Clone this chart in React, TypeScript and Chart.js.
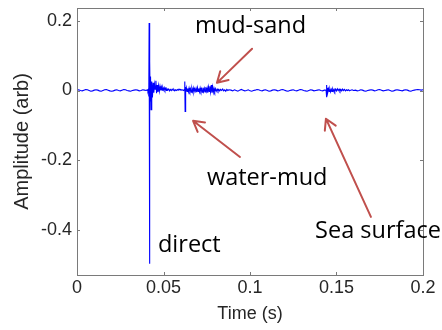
import React, { useEffect, useRef } from "react";
import { Chart, registerables } from "chart.js";

Chart.register(...registerables);

// ---- axis ranges and ticks ----
const xRange = [0, 0.2];
const yRange = [-0.53, 0.237];
const xTicks = [0, 0.05, 0.1, 0.15, 0.2];
const yTicks = [-0.4, -0.2, 0, 0.2];
const xTitle = "Time (s)";
const yTitle = "Amplitude (arb)";

// ---- waveform segments: [time (s), amplitude (arb)] ----
const quietBefore: [number, number][] = [
  [0.000, 0.001], [0.001, 0.002], [0.002, 0.000], [0.003, -0.001], [0.004, 0.001],
  [0.005, 0.003], [0.006, 0.002], [0.007, 0.000], [0.008, -0.002], [0.009, -0.001],
  [0.010, 0.001], [0.011, 0.002], [0.012, 0.001], [0.013, -0.001], [0.014, -0.002],
  [0.015, 0.000], [0.016, 0.002], [0.017, 0.003], [0.018, 0.001], [0.019, -0.001],
  [0.020, -0.002], [0.021, -0.001], [0.022, 0.001], [0.023, 0.002], [0.024, 0.000],
  [0.025, -0.001], [0.026, 0.001], [0.027, 0.003], [0.028, 0.002], [0.029, 0.000],
  [0.030, -0.001], [0.031, -0.002], [0.032, 0.000], [0.033, 0.001], [0.034, 0.002],
  [0.035, 0.001], [0.036, -0.001], [0.037, 0.000], [0.038, 0.002], [0.039, 0.001],
  [0.040, 0.000],
];

const directArrival: [number, number][] = [
  [0.0406, 0.002], [0.0410, -0.002], [0.0413, 0.003], [0.0415, -0.017], [0.0417, 0.194],
  [0.0419, -0.498], [0.0421, 0.083], [0.0423, -0.030], [0.0425, 0.040], [0.0428, -0.055],
  [0.0432, 0.026], [0.0436, -0.020], [0.0440, 0.022], [0.0444, -0.006], [0.0448, 0.018],
  [0.0452, 0.004], [0.0456, 0.028], [0.0460, -0.008], [0.0464, 0.016], [0.0468, -0.004],
  [0.0472, 0.014], [0.0476, -0.002], [0.0480, 0.012], [0.0484, 0.000], [0.0488, 0.010],
  [0.0492, 0.001], [0.0496, 0.009], [0.0500, 0.002], [0.0504, 0.008], [0.0508, 0.001],
  [0.0512, 0.006], [0.0516, 0.000], [0.0520, 0.005], [0.0525, 0.001], [0.0530, 0.004],
  [0.0535, -0.001], [0.0540, 0.003], [0.0545, 0.000], [0.0550, 0.004], [0.0555, 0.001],
  [0.0560, 0.003], [0.0565, -0.001], [0.0570, 0.002], [0.0575, 0.000], [0.0580, 0.003],
  [0.0585, 0.001], [0.0590, 0.004], [0.0595, 0.002], [0.0600, 0.003], [0.0605, 0.001],
  [0.0610, 0.002], [0.0615, 0.000], [0.0620, 0.002],
];

const waterMudEcho: [number, number][] = [
  [0.0622, 0.001], [0.0624, 0.026], [0.0625, -0.060], [0.0627, 0.010], [0.0629, -0.004],
];

const mudSandEcho: [number, number][] = [
  [0.0632, 0.008], [0.0636, -0.003], [0.0640, 0.006], [0.0644, -0.004], [0.0648, 0.007],
  [0.0652, -0.002], [0.0656, 0.005], [0.0660, -0.005], [0.0664, 0.006], [0.0668, -0.003],
  [0.0672, 0.007], [0.0676, -0.004], [0.0680, 0.005], [0.0684, -0.002], [0.0688, 0.006],
  [0.0692, -0.005], [0.0696, 0.008], [0.0700, -0.003], [0.0704, 0.006], [0.0708, -0.004],
  [0.0712, 0.007], [0.0716, -0.002], [0.0720, 0.005], [0.0724, -0.005], [0.0728, 0.008],
  [0.0732, -0.003], [0.0736, 0.006], [0.0740, -0.004], [0.0744, 0.009], [0.0748, -0.002],
  [0.0752, 0.007], [0.0756, -0.006], [0.0760, 0.010], [0.0764, -0.003], [0.0768, 0.012],
  [0.0772, -0.004], [0.0776, 0.016], [0.0780, -0.006], [0.0784, 0.010], [0.0788, -0.005],
  [0.0792, 0.006], [0.0796, -0.003], [0.0800, 0.005], [0.0805, -0.002], [0.0810, 0.004],
  [0.0815, -0.002], [0.0820, 0.003], [0.0825, -0.001], [0.0830, 0.003], [0.0836, 0.000],
  [0.0842, 0.004], [0.0848, -0.001], [0.0854, 0.002], [0.0860, -0.002], [0.0866, 0.003],
  [0.0872, 0.000], [0.0878, 0.002],
];

const quietMiddle: [number, number][] = [
  [0.089, 0.001], [0.090, -0.001], [0.091, 0.002], [0.092, 0.000], [0.093, -0.002],
  [0.094, 0.001], [0.095, 0.003], [0.096, 0.001], [0.097, -0.001], [0.098, 0.000],
  [0.099, 0.002], [0.100, -0.001], [0.101, -0.002], [0.102, 0.000], [0.103, 0.001],
  [0.104, 0.003], [0.105, 0.002], [0.106, 0.000], [0.107, -0.001], [0.108, 0.001],
  [0.109, 0.002], [0.110, 0.000], [0.111, -0.002], [0.112, -0.001], [0.113, 0.001],
  [0.114, 0.002], [0.115, 0.001], [0.116, -0.001], [0.117, 0.000], [0.118, 0.002],
  [0.119, 0.003], [0.120, 0.001], [0.121, -0.001], [0.122, -0.002], [0.123, 0.000],
  [0.124, 0.001], [0.125, 0.002], [0.126, 0.000], [0.127, -0.001], [0.128, 0.001],
  [0.129, 0.003], [0.130, 0.002], [0.131, 0.000], [0.132, -0.001], [0.133, -0.002],
  [0.134, 0.000], [0.135, 0.002], [0.136, 0.001], [0.137, -0.001], [0.138, 0.000],
  [0.139, 0.001], [0.140, 0.002], [0.141, 0.000], [0.142, -0.001], [0.143, 0.001],
];

const seaSurfaceEcho: [number, number][] = [
  [0.1436, 0.001], [0.1440, 0.000], [0.1442, 0.016], [0.1444, -0.019], [0.1447, 0.008],
  [0.1450, -0.004], [0.1454, 0.005], [0.1458, -0.003], [0.1462, 0.004], [0.1466, -0.004],
  [0.1470, 0.003], [0.1474, -0.003], [0.1478, 0.004], [0.1482, -0.002], [0.1486, 0.003],
  [0.1490, -0.003], [0.1495, 0.004], [0.1500, -0.001], [0.1505, 0.005], [0.1510, 0.000],
  [0.1515, 0.004], [0.1520, -0.002], [0.1525, 0.003], [0.1530, -0.001], [0.1535, 0.004],
  [0.1540, 0.000], [0.1546, 0.003], [0.1552, -0.001], [0.1558, 0.002], [0.1564, 0.000],
  [0.1570, 0.002], [0.1576, -0.001], [0.1582, 0.001], [0.1590, 0.002], [0.1598, 0.000],
];

const quietAfter: [number, number][] = [
  [0.161, 0.001], [0.162, -0.001], [0.163, 0.000], [0.164, 0.002], [0.165, 0.001],
  [0.166, -0.001], [0.167, -0.002], [0.168, 0.000], [0.169, 0.001], [0.170, 0.002],
  [0.171, 0.001], [0.172, -0.001], [0.173, 0.000], [0.174, 0.002], [0.175, 0.003],
  [0.176, 0.001], [0.177, -0.001], [0.178, 0.000], [0.179, 0.001], [0.180, 0.002],
  [0.181, 0.000], [0.182, -0.002], [0.183, -0.001], [0.184, 0.001], [0.185, 0.002],
  [0.186, 0.001], [0.187, 0.000], [0.188, -0.001], [0.189, 0.001], [0.190, 0.002],
  [0.191, 0.001], [0.192, -0.001], [0.193, -0.002], [0.194, 0.000], [0.195, 0.001],
  [0.196, 0.002], [0.197, 0.003], [0.198, 0.002], [0.199, 0.001], [0.200, 0.002],
];

// ---- annotations (data coordinates) ----
const annotationTexts = ["mud-sand", "water-mud", "direct", "Sea surface"];
const annotationTextAt: [number, number][] = [
  [0.0682, 0.166], [0.0751, -0.271], [0.0468, -0.4635], [0.1376, -0.423],
];
const arrowTails: [number, number][] = [[0.1012, 0.12], [0.0942, -0.191], [0.1699, -0.363]];
const arrowHeads: [number, number][] = [[0.0809, 0.022], [0.0671, -0.087], [0.1439, -0.081]];

const LINE_COLOR = "#0000ff";
const ARROW_COLOR = "#c0504d";
const AXIS_COLOR = "#7a7a7a";
const TEXT_COLOR = "#262626";

const framePlugin = {
  id: "matlabFrame",
  afterDatasetsDraw(chart: any) {
    const { ctx, chartArea: a, scales } = chart;
    const xs = scales.x;
    const ys = scales.y;
    ctx.save();
    ctx.strokeStyle = AXIS_COLOR;
    ctx.lineWidth = 1;
    ctx.strokeRect(a.left + 0.5, a.top + 0.5, a.right - a.left, a.bottom - a.top);
    const tl = 3;
    ctx.beginPath();
    xTicks.forEach((t) => {
      const px = Math.round(xs.getPixelForValue(t)) + 0.5;
      ctx.moveTo(px, a.bottom);
      ctx.lineTo(px, a.bottom - tl);
      ctx.moveTo(px, a.top);
      ctx.lineTo(px, a.top + tl);
    });
    yTicks.forEach((v) => {
      const py = Math.round(ys.getPixelForValue(v)) + 0.5;
      ctx.moveTo(a.left, py);
      ctx.lineTo(a.left + tl, py);
      ctx.moveTo(a.right, py);
      ctx.lineTo(a.right - tl, py);
    });
    ctx.stroke();
    ctx.restore();
  },
};

const annotationPlugin = {
  id: "annotations",
  afterDraw(chart: any) {
    const { ctx, scales } = chart;
    const xs = scales.x;
    const ys = scales.y;
    ctx.save();
    ctx.fillStyle = "#000";
    ctx.font = '23.5px "Open Sans"';
    ctx.textAlign = "left";
    ctx.textBaseline = "alphabetic";
    annotationTexts.forEach((txt, i) => {
      const [t, v] = annotationTextAt[i];
      ctx.fillText(txt, xs.getPixelForValue(t), ys.getPixelForValue(v));
    });
    ctx.strokeStyle = ARROW_COLOR;
    ctx.lineWidth = 2;
    ctx.lineCap = "round";
    ctx.lineJoin = "round";
    arrowTails.forEach((tail, i) => {
      const head = arrowHeads[i];
      const x0 = xs.getPixelForValue(tail[0]);
      const y0 = ys.getPixelForValue(tail[1]);
      const x1 = xs.getPixelForValue(head[0]);
      const y1 = ys.getPixelForValue(head[1]);
      const ang = Math.atan2(y1 - y0, x1 - x0);
      const hl = 12;
      const spread = Math.PI / 6;
      ctx.beginPath();
      ctx.moveTo(x0, y0);
      ctx.lineTo(x1, y1);
      ctx.moveTo(x1 - hl * Math.cos(ang - spread), y1 - hl * Math.sin(ang - spread));
      ctx.lineTo(x1, y1);
      ctx.lineTo(x1 - hl * Math.cos(ang + spread), y1 - hl * Math.sin(ang + spread));
      ctx.stroke();
    });
    ctx.restore();
  },
};

export default function App() {
  const ref = useRef<HTMLCanvasElement | null>(null);

  useEffect(() => {
    if (!ref.current) return;
    const points = [
      ...quietBefore,
      ...directArrival,
      ...waterMudEcho,
      ...mudSandEcho,
      ...quietMiddle,
      ...seaSurfaceEcho,
      ...quietAfter,
    ].map(([x, y]) => ({ x, y }));

    const chart = new Chart(ref.current, {
      type: "scatter",
      data: {
        datasets: [
          {
            data: points,
            showLine: true,
            borderColor: LINE_COLOR,
            borderWidth: 1.1,
            pointRadius: 0,
            tension: 0,
          },
        ],
      },
      options: {
        animation: false,
        responsive: false,
        devicePixelRatio: 1,
        events: [],
        layout: { padding: { top: 8, right: 19, left: 0, bottom: 0 } },
        plugins: { legend: { display: false }, tooltip: { enabled: false }, title: { display: false } },
        scales: {
          x: {
            type: "linear",
            min: xRange[0],
            max: xRange[1],
            grid: { display: false, drawTicks: false },
            border: { display: false },
            afterBuildTicks: (s: any) => {
              s.ticks = xTicks.map((value) => ({ value }));
            },
            afterFit: (s: any) => {
              s.height = 55;
              s.paddingLeft = 0;
              s.paddingRight = 0;
            },
            ticks: {
              color: TEXT_COLOR,
              font: { family: '"Liberation Sans", Arial', size: 18 },
              padding: 2,
              maxRotation: 0,
              autoSkip: false,
              callback: (v: any) => String(v),
            },
            title: {
              display: true,
              text: xTitle,
              color: TEXT_COLOR,
              font: { family: '"Liberation Sans", Arial', size: 18 },
              padding: { top: 0, bottom: 5 },
            },
          },
          y: {
            type: "linear",
            min: yRange[0],
            max: yRange[1],
            grid: { display: false, drawTicks: false },
            border: { display: false },
            afterBuildTicks: (s: any) => {
              s.ticks = yTicks.map((value) => ({ value }));
            },
            afterFit: (s: any) => {
              s.width = 77;
              s.paddingTop = 0;
              s.paddingBottom = 0;
            },
            ticks: {
              color: TEXT_COLOR,
              font: { family: '"Liberation Sans", Arial', size: 18 },
              padding: 5,
              autoSkip: false,
              callback: (v: any) => String(v),
            },
            title: {
              display: true,
              text: yTitle,
              color: TEXT_COLOR,
              font: { family: '"Liberation Sans", Arial', size: 20 },
              padding: { top: 10, bottom: 0 },
            },
          },
        },
      },
      plugins: [framePlugin, annotationPlugin],
    });
    return () => chart.destroy();
  }, []);

  return (
    <div style={{ position: "absolute", left: 0, top: 0, width: 442, height: 330, background: "#fff" }}>
      <canvas ref={ref} width={442} height={330} />
    </div>
  );
}
